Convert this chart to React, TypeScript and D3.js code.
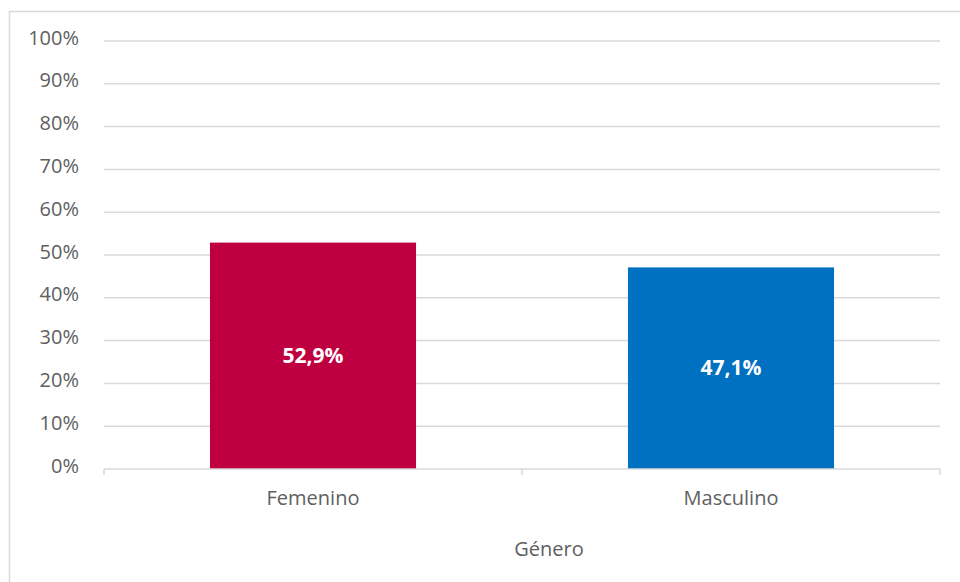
import React, { useEffect, useRef } from 'react';
import * as d3 from 'd3';

const categories = ['Femenino', 'Masculino'];
const values = [52.9, 47.1];
const valueLabels = ['52,9%', '47,1%'];
const barColors = ['#BE0040', '#0070C0'];
const yTicks = [0, 10, 20, 30, 40, 50, 60, 70, 80, 90, 100];
const xTitle = 'Género';

const GenderChart: React.FC = () => {
  const svgRef = useRef<SVGSVGElement>(null);

  useEffect(() => {
    if (!svgRef.current) return;

    const svg = d3.select(svgRef.current);
    svg.selectAll('*').remove();

    const width = 960;
    const height = 582;
    const margin = { top: 41, right: 20, bottom: 113, left: 104 };
    const font = '"Open Sans", "Noto Sans", sans-serif';
    const grey = '#d9d9d9';
    const textColor = '#606060';

    svg.append('rect').attr('width', width).attr('height', height).attr('fill', '#fff');

    // chart frame (left + top visible)
    svg.append('path')
      .attr('d', `M9.5,${height} L9.5,11.5 L${width},11.5`)
      .attr('fill', 'none')
      .attr('stroke', grey)
      .attr('stroke-width', 1.5);

    const x = d3.scaleBand<string>()
      .domain(categories)
      .range([margin.left, width - margin.right])
      .paddingInner(0.507)
      .paddingOuter(0.2535);

    const y = d3.scaleLinear()
      .domain([0, 100])
      .range([height - margin.bottom, margin.top]);

    // Grid
    svg.append('g')
      .selectAll('line')
      .data(yTicks.filter(t => t > 0))
      .join('line')
      .attr('x1', margin.left)
      .attr('x2', width - margin.right)
      .attr('y1', d => y(d))
      .attr('y2', d => y(d))
      .attr('stroke', grey)
      .attr('stroke-width', 1.5);

    // y labels
    svg.append('g')
      .selectAll('text')
      .data(yTicks)
      .join('text')
      .attr('x', 79)
      .attr('y', d => y(d) + 3.5)
      .attr('text-anchor', 'end')
      .attr('font-family', font)
      .attr('font-size', 20)
      .attr('fill', textColor)
      .text(d => `${d}%`);

    // Bars
    svg.append('g')
      .selectAll('rect')
      .data(values)
      .join('rect')
      .attr('x', (_, i) => x(categories[i])!)
      .attr('width', x.bandwidth())
      .attr('y', d => y(d))
      .attr('height', d => y(0) - y(d))
      .attr('fill', (_, i) => barColors[i]);

    svg.append('g')
      .selectAll('text')
      .data(values)
      .join('text')
      .attr('x', (_, i) => x(categories[i])! + x.bandwidth() / 2)
      .attr('y', d => (y(d) + y(0)) / 2 + 7)
      .attr('text-anchor', 'middle')
      .attr('font-family', font)
      .attr('font-size', 21)
      .attr('font-weight', 'bold')
      .attr('fill', '#fff')
      .text((_, i) => valueLabels[i]);

    // x axis
    const step = x.step();
    const xAxis = svg.append('g').attr('stroke', grey).attr('stroke-width', 1.5);
    xAxis.append('line')
      .attr('x1', margin.left).attr('x2', width - margin.right)
      .attr('y1', y(0)).attr('y2', y(0));
    xAxis.selectAll('line.tick')
      .data(d3.range(categories.length + 1))
      .join('line')
      .attr('class', 'tick')
      .attr('x1', i => margin.left + i * step)
      .attr('x2', i => margin.left + i * step)
      .attr('y1', y(0))
      .attr('y2', y(0) + 6);

    svg.append('g')
      .selectAll('text')
      .data(categories)
      .join('text')
      .attr('x', d => x(d)! + x.bandwidth() / 2)
      .attr('y', y(0) + 36)
      .attr('text-anchor', 'middle')
      .attr('font-family', font)
      .attr('font-size', 20)
      .attr('fill', textColor)
      .text(d => d);

    svg.append('text')
      .attr('x', 549)
      .attr('y', 556)
      .attr('text-anchor', 'middle')
      .attr('font-family', font)
      .attr('font-size', 20)
      .attr('fill', textColor)
      .text(xTitle);
  }, []);

  return (
    <svg
      ref={svgRef}
      width={960}
      height={582}
      style={{ position: 'absolute', top: 0, left: 0 }}
    />
  );
};

export default function App() {
  return <GenderChart />;
}
